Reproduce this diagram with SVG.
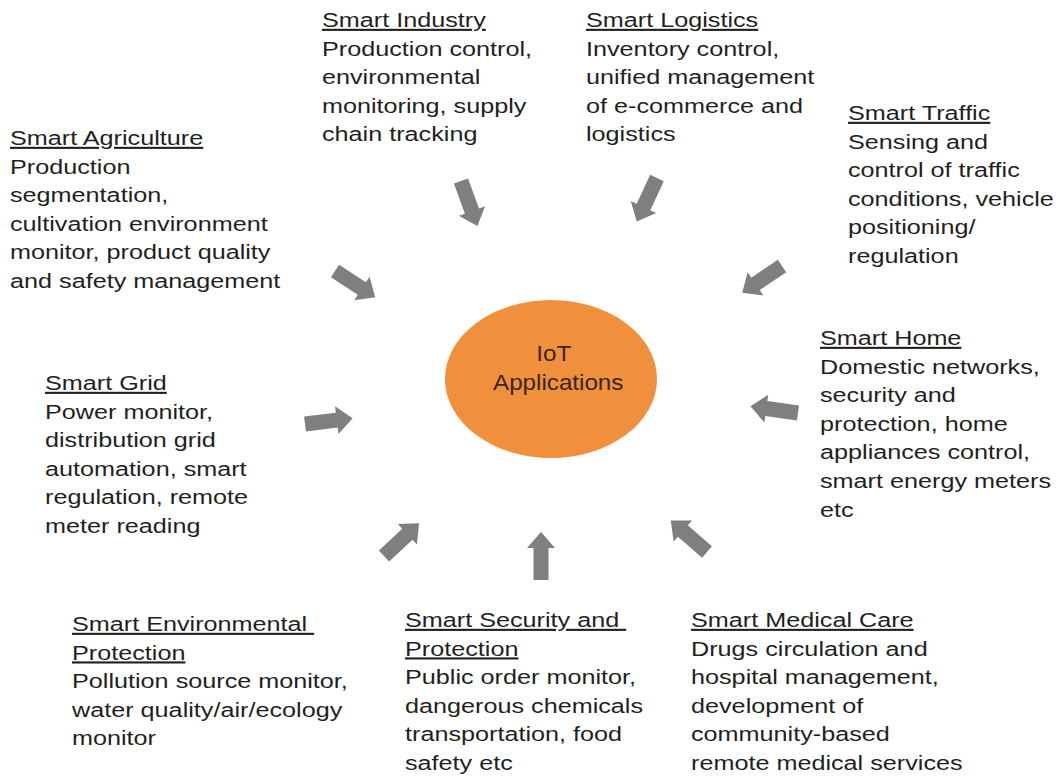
<svg xmlns="http://www.w3.org/2000/svg" xmlns:xlink="http://www.w3.org/1999/xlink" width="1058" height="778" viewBox="0 0 1058 778">
  <style>
    text { font-family: "Liberation Sans", Arial, sans-serif; font-size: 21px; fill: #1f1f1f; }
    .head { text-decoration: underline; }
    .hub { fill: #3b2614; font-size: 22px; }
    .arrow { fill: #7f7f7f; }
  </style>
  <defs>
    <!-- block arrow pointing along +x, tail at origin -->
    <path id="blk" class="arrow" d="M0,-7.5 L32,-7.5 L32,-14 L48,0 L32,14 L32,7.5 L0,7.5 Z"/>
  </defs>
  <rect width="1058" height="778" fill="#ffffff"/>

  <g id="hub">
    <ellipse cx="551" cy="379" rx="106" ry="79" fill="#f0903d"/>
    <g transform="translate(556,361) scale(1.1,1)">
      <text class="hub" x="-2" y="0" text-anchor="middle">IoT</text>
      <text class="hub" x="2" y="29" text-anchor="middle">Applications</text>
    </g>
  </g>

  <g id="connectors">
    <use xlink:href="#blk" transform="translate(461,181) rotate(70)"/>
    <use xlink:href="#blk" transform="translate(657,178) rotate(115)"/>
    <use xlink:href="#blk" transform="translate(782,266) rotate(146)"/>
    <use xlink:href="#blk" transform="translate(335,271) rotate(33)"/>
    <use xlink:href="#blk" transform="translate(305,424) rotate(-7)"/>
    <use xlink:href="#blk" transform="translate(798,413) rotate(188)"/>
    <use xlink:href="#blk" transform="translate(384,556) rotate(-43)"/>
    <use xlink:href="#blk" transform="translate(541,580) rotate(-90)"/>
    <use xlink:href="#blk" transform="translate(707,552) rotate(221)"/>
  </g>

  <g id="smart-industry" transform="translate(322,27) scale(1.2,1)">
    <text class="head" x="0" y="0">Smart Industry</text>
    <text x="0" y="28.6">Production control,</text>
    <text x="0" y="57.2">environmental</text>
    <text x="0" y="85.8">monitoring, supply</text>
    <text x="0" y="114.4">chain tracking</text>
  </g>

  <g id="smart-logistics" transform="translate(586,27) scale(1.2,1)">
    <text class="head" x="0" y="0">Smart Logistics</text>
    <text x="0" y="28.6">Inventory control,</text>
    <text x="0" y="57.2">unified management</text>
    <text x="0" y="85.8">of e-commerce and</text>
    <text x="0" y="114.4">logistics</text>
  </g>

  <g id="smart-traffic" transform="translate(848,120) scale(1.2,1)">
    <text class="head" x="0" y="0">Smart Traffic</text>
    <text x="0" y="28.6">Sensing and</text>
    <text x="0" y="57.2">control of traffic</text>
    <text x="0" y="85.8">conditions, vehicle</text>
    <text x="0" y="114.4">positioning/</text>
    <text x="0" y="143">regulation</text>
  </g>

  <g id="smart-agriculture" transform="translate(10,145) scale(1.2,1)">
    <text class="head" x="0" y="0">Smart Agriculture</text>
    <text x="0" y="28.6">Production</text>
    <text x="0" y="57.2">segmentation,</text>
    <text x="0" y="85.8">cultivation environment</text>
    <text x="0" y="114.4">monitor, product quality</text>
    <text x="0" y="143">and safety management</text>
  </g>

  <g id="smart-grid" transform="translate(45,390) scale(1.2,1)">
    <text class="head" x="0" y="0">Smart Grid</text>
    <text x="0" y="28.6">Power monitor,</text>
    <text x="0" y="57.2">distribution grid</text>
    <text x="0" y="85.8">automation, smart</text>
    <text x="0" y="114.4">regulation, remote</text>
    <text x="0" y="143">meter reading</text>
  </g>

  <g id="smart-home" transform="translate(820,345) scale(1.2,1)">
    <text class="head" x="0" y="0">Smart Home</text>
    <text x="0" y="28.6">Domestic networks,</text>
    <text x="0" y="57.2">security and</text>
    <text x="0" y="85.8">protection, home</text>
    <text x="0" y="114.4">appliances control,</text>
    <text x="0" y="143">smart energy meters</text>
    <text x="0" y="171.6">etc</text>
  </g>

  <g id="smart-environmental-protection" transform="translate(72,631) scale(1.2,1)">
    <text class="head" x="0" y="0">Smart Environmental&#160;</text>
    <text class="head" x="0" y="28.6">Protection</text>
    <text x="0" y="57.2">Pollution source monitor,</text>
    <text x="0" y="85.8">water quality/air/ecology</text>
    <text x="0" y="114.4">monitor</text>
  </g>

  <g id="smart-security-protection" transform="translate(405,627) scale(1.2,1)">
    <text class="head" x="0" y="0">Smart Security and&#160;</text>
    <text class="head" x="0" y="28.6">Protection</text>
    <text x="0" y="57.2">Public order monitor,</text>
    <text x="0" y="85.8">dangerous chemicals</text>
    <text x="0" y="114.4">transportation, food</text>
    <text x="0" y="143">safety etc</text>
  </g>

  <g id="smart-medical-care" transform="translate(691,627) scale(1.2,1)">
    <text class="head" x="0" y="0">Smart Medical Care</text>
    <text x="0" y="28.6">Drugs circulation and</text>
    <text x="0" y="57.2">hospital management,</text>
    <text x="0" y="85.8">development of</text>
    <text x="0" y="114.4">community-based</text>
    <text x="0" y="143">remote medical services</text>
  </g>
</svg>
